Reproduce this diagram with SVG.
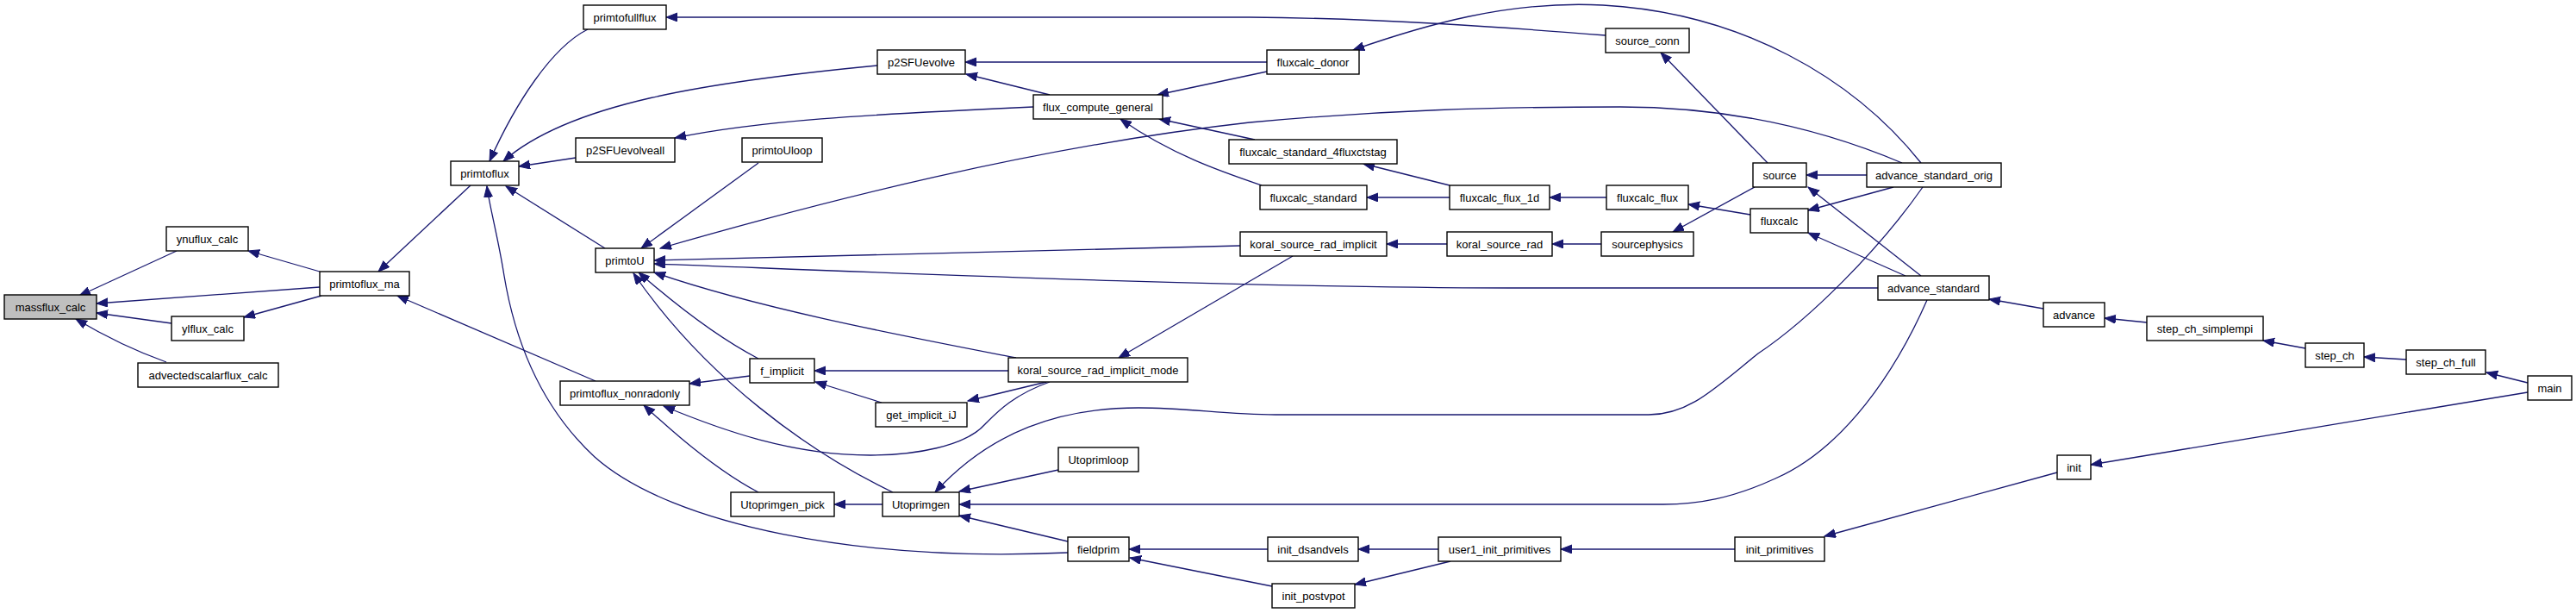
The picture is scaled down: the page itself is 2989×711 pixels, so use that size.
<svg xmlns="http://www.w3.org/2000/svg" width="2989" height="711" viewBox="0 0 2989 711">
<style>
.n rect{fill:#fff;stroke:#000;stroke-width:1.4}
.n.g rect{fill:#bfbfbf}
.n text{font-family:"Liberation Sans",Arial,sans-serif;font-size:13px;text-anchor:middle;fill:#000}
.e path{fill:none;stroke:#191970;stroke-width:1.3;marker-end:url(#a)}
</style>
<defs>
<marker id="a" markerWidth="14" markerHeight="11" refX="13" refY="5" orient="auto" markerUnits="userSpaceOnUse">
<path d="M0,0 L13,5 L0,10 z" fill="#191970" stroke="#191970" stroke-width="1"/>
</marker>
</defs>
<rect width="2989" height="711" fill="#fff"/>
<g id="edges" class="e">
<path d="M205,291 L92,343"/>
<path d="M371,333 L112,352"/>
<path d="M199,375 L112,363"/>
<path d="M193,420 C165,410 125,392 88,370"/>
<path d="M371,315 L288,291"/>
<path d="M373,343 L283,368"/>
<path d="M546,215 L439,315"/>
<path d="M691,442 L461,343"/>
<path d="M682,34 C640,55 598,120 568,187"/>
<path d="M1018,76 C820,95 660,120 584,187"/>
<path d="M668,183 L602,193"/>
<path d="M702,288 L587,216"/>
<path d="M1239,641 C1000,652 780,610 690,530 C620,465 595,380 585,320 C578,275 568,240 565,216"/>
<path d="M880,189 L744,288"/>
<path d="M2207,189 C2110,148 2000,124 1880,124 C1730,124 1600,128 1450,142 C1200,170 950,235 766,288"/>
<path d="M1439,285 L759,302"/>
<path d="M2179,334 L1750,334 C1400,333 1000,315 759,306"/>
<path d="M1179,415 C1050,390 880,358 759,316"/>
<path d="M880,416 C830,390 780,350 741,316"/>
<path d="M1036,571 C940,525 820,440 735,317"/>
<path d="M1199,124 C1000,133 880,140 783,160"/>
<path d="M1470,72 L1120,72"/>
<path d="M1218,110 L1121,86"/>
<path d="M1470,83 L1343,110"/>
<path d="M1456,162 L1345,138"/>
<path d="M1464,215 C1420,200 1360,180 1300,138"/>
<path d="M1682,215 L1582,190"/>
<path d="M1682,229 L1586,229"/>
<path d="M1864,229 L1798,229"/>
<path d="M2031,249 L1959,237"/>
<path d="M1679,283 L1609,283"/>
<path d="M1858,283 L1801,283"/>
<path d="M2036,217 L1941,269"/>
<path d="M2051,189 L1927,61"/>
<path d="M1863,41 C1750,32 1600,21 1450,20 L773,20"/>
<path d="M2229,189 C2150,90 2020,15 1860,6 C1750,0 1650,30 1570,58"/>
<path d="M2166,203 L2096,203"/>
<path d="M2197,217 L2098,244"/>
<path d="M2229,320 L2098,217"/>
<path d="M2211,320 L2098,270"/>
<path d="M2231,217 C2180,290 2100,370 2040,410 C1990,450 1960,481 1913,481 L1480,481 C1420,481 1380,473 1321,473 C1230,473 1150,500 1085,571"/>
<path d="M2236,348 C2200,430 2140,520 2060,555 C2010,578 1970,585 1930,585 L1113,585"/>
<path d="M1228,545 L1113,570"/>
<path d="M1239,628 L1113,598"/>
<path d="M1024,585 L968,585"/>
<path d="M880,571 C840,550 790,510 747,470"/>
<path d="M1218,443 C1175,458 1155,480 1143,492 C1120,518 1060,528 1010,528 C920,528 840,500 770,471"/>
<path d="M870,436 L800,445"/>
<path d="M1170,430 L945,430"/>
<path d="M1023,467 L946,443"/>
<path d="M1214,443 L1123,465"/>
<path d="M1500,297 L1298,415"/>
<path d="M1471,637 L1310,637"/>
<path d="M1476,680 L1311,647"/>
<path d="M1669,637 L1576,637"/>
<path d="M1683,651 L1572,678"/>
<path d="M2013,637 L1811,637"/>
<path d="M2387,548 L2117,622"/>
<path d="M2933,455 L2426,539"/>
<path d="M2933,444 L2885,432"/>
<path d="M2792,417 L2743,414"/>
<path d="M2675,404 L2626,395"/>
<path d="M2491,374 L2442,369"/>
<path d="M2371,358 L2308,347"/>
</g>
<g id="massflux_calc" class="n g"><rect x="5" y="342" width="107" height="28"/><text x="58.5" y="360.5">massflux_calc</text></g>
<g id="ynuflux_calc" class="n"><rect x="193" y="263" width="95" height="28"/><text x="240.5" y="281.5">ynuflux_calc</text></g>
<g id="ylflux_calc" class="n"><rect x="199" y="367" width="84" height="28"/><text x="241" y="385.5">ylflux_calc</text></g>
<g id="advectedscalarflux_calc" class="n"><rect x="160" y="421" width="163" height="28"/><text x="241.5" y="439.5">advectedscalarflux_calc</text></g>
<g id="primtoflux_ma" class="n"><rect x="371" y="315" width="104" height="28"/><text x="423" y="333.5">primtoflux_ma</text></g>
<g id="primtoflux" class="n"><rect x="523" y="187" width="79" height="28"/><text x="562.5" y="205.5">primtoflux</text></g>
<g id="primtofullflux" class="n"><rect x="677" y="6" width="96" height="28"/><text x="725" y="24.5">primtofullflux</text></g>
<g id="p2SFUevolve" class="n"><rect x="1018" y="58" width="102" height="28"/><text x="1069" y="76.5">p2SFUevolve</text></g>
<g id="p2SFUevolveall" class="n"><rect x="668" y="160" width="115" height="28"/><text x="725.5" y="178.5">p2SFUevolveall</text></g>
<g id="primtoUloop" class="n"><rect x="861" y="160" width="93" height="28"/><text x="907.5" y="178.5">primtoUloop</text></g>
<g id="primtoU" class="n"><rect x="691" y="288" width="68" height="28"/><text x="725" y="306.5">primtoU</text></g>
<g id="primtoflux_nonradonly" class="n"><rect x="650" y="442" width="150" height="28"/><text x="725" y="460.5">primtoflux_nonradonly</text></g>
<g id="f_implicit" class="n"><rect x="870" y="416" width="75" height="28"/><text x="907.5" y="434.5">f_implicit</text></g>
<g id="get_implicit_iJ" class="n"><rect x="1016" y="467" width="106" height="28"/><text x="1069" y="485.5">get_implicit_iJ</text></g>
<g id="Utoprimgen_pick" class="n"><rect x="848" y="571" width="120" height="28"/><text x="908" y="589.5">Utoprimgen_pick</text></g>
<g id="Utoprimgen" class="n"><rect x="1024" y="571" width="89" height="28"/><text x="1068.5" y="589.5">Utoprimgen</text></g>
<g id="Utoprimloop" class="n"><rect x="1228" y="519" width="93" height="28"/><text x="1274.5" y="537.5">Utoprimloop</text></g>
<g id="fieldprim" class="n"><rect x="1239" y="623" width="71" height="28"/><text x="1274.5" y="641.5">fieldprim</text></g>
<g id="flux_compute_general" class="n"><rect x="1199" y="110" width="150" height="28"/><text x="1274" y="128.5">flux_compute_general</text></g>
<g id="fluxcalc_donor" class="n"><rect x="1470" y="58" width="107" height="28"/><text x="1523.5" y="76.5">fluxcalc_donor</text></g>
<g id="fluxcalc_standard_4fluxctstag" class="n"><rect x="1426" y="162" width="195" height="28"/><text x="1523.5" y="180.5">fluxcalc_standard_4fluxctstag</text></g>
<g id="fluxcalc_standard" class="n"><rect x="1462" y="215" width="124" height="28"/><text x="1524" y="233.5">fluxcalc_standard</text></g>
<g id="koral_source_rad_implicit" class="n"><rect x="1439" y="269" width="170" height="28"/><text x="1524" y="287.5">koral_source_rad_implicit</text></g>
<g id="koral_source_rad_implicit_mode" class="n"><rect x="1170" y="415" width="208" height="28"/><text x="1274" y="433.5">koral_source_rad_implicit_mode</text></g>
<g id="fluxcalc_flux_1d" class="n"><rect x="1682" y="215" width="116" height="28"/><text x="1740" y="233.5">fluxcalc_flux_1d</text></g>
<g id="fluxcalc_flux" class="n"><rect x="1864" y="215" width="95" height="28"/><text x="1911.5" y="233.5">fluxcalc_flux</text></g>
<g id="koral_source_rad" class="n"><rect x="1679" y="269" width="122" height="28"/><text x="1740" y="287.5">koral_source_rad</text></g>
<g id="sourcephysics" class="n"><rect x="1858" y="269" width="107" height="28"/><text x="1911.5" y="287.5">sourcephysics</text></g>
<g id="source_conn" class="n"><rect x="1863" y="33" width="97" height="28"/><text x="1911.5" y="51.5">source_conn</text></g>
<g id="source" class="n"><rect x="2034" y="189" width="62" height="28"/><text x="2065" y="207.5">source</text></g>
<g id="fluxcalc" class="n"><rect x="2031" y="242" width="67" height="28"/><text x="2064.5" y="260.5">fluxcalc</text></g>
<g id="advance_standard_orig" class="n"><rect x="2166" y="189" width="156" height="28"/><text x="2244" y="207.5">advance_standard_orig</text></g>
<g id="advance_standard" class="n"><rect x="2179" y="320" width="129" height="28"/><text x="2243.5" y="338.5">advance_standard</text></g>
<g id="advance" class="n"><rect x="2371" y="351" width="71" height="28"/><text x="2406.5" y="369.5">advance</text></g>
<g id="step_ch_simplempi" class="n"><rect x="2491" y="367" width="135" height="28"/><text x="2558.5" y="385.5">step_ch_simplempi</text></g>
<g id="step_ch" class="n"><rect x="2675" y="398" width="68" height="28"/><text x="2709" y="416.5">step_ch</text></g>
<g id="step_ch_full" class="n"><rect x="2792" y="406" width="92" height="28"/><text x="2838" y="424.5">step_ch_full</text></g>
<g id="main" class="n"><rect x="2933" y="436" width="51" height="28"/><text x="2958.5" y="454.5">main</text></g>
<g id="init" class="n"><rect x="2387" y="528" width="39" height="28"/><text x="2406.5" y="546.5">init</text></g>
<g id="init_primitives" class="n"><rect x="2013" y="623" width="104" height="28"/><text x="2065" y="641.5">init_primitives</text></g>
<g id="user1_init_primitives" class="n"><rect x="1669" y="623" width="142" height="28"/><text x="1740" y="641.5">user1_init_primitives</text></g>
<g id="init_dsandvels" class="n"><rect x="1471" y="623" width="105" height="28"/><text x="1523.5" y="641.5">init_dsandvels</text></g>
<g id="init_postvpot" class="n"><rect x="1476" y="677" width="96" height="28"/><text x="1524" y="695.5">init_postvpot</text></g>
</svg>
